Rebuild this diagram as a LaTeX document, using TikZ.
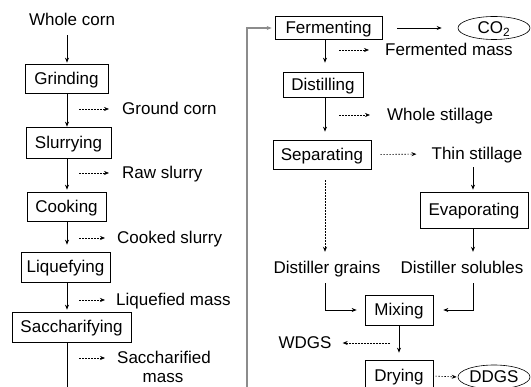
\documentclass[tikz,border=0pt]{standalone}
\usepackage{fontspec}
\setmainfont{Liberation Sans}
\usetikzlibrary{arrows.meta,shapes.geometric,calc}
\begin{document}
\begin{tikzpicture}[x=1pt,y=-1pt,
  lbl/.style={font=\fontsize{17}{20}\selectfont, inner sep=0pt, text height=12pt, text depth=0pt},
  box/.style={lbl, draw, line width=0.7pt},
  oval/.style={lbl, draw, ellipse, line width=0.6pt},
  flow/.style={-{Stealth[length=5pt,width=4pt]}, line width=0.7pt},
  dflow/.style={flow, dash pattern=on 1.6pt off 1.4pt, line width=0.6pt},
  feed/.style={-{Stealth[length=5pt,width=4pt]}, line width=1.2pt, black!45}]
\useasboundingbox (0,0) rectangle (531,387);
\clip (0,0) rectangle (531,387);
% left column
\node[lbl] (whole) at (72,20) {Whole corn};
\node[box, minimum width=83pt, minimum height=29pt] (grind) at (66.5,78.5) {Grinding};
\node[box, minimum width=85pt, minimum height=31pt] (slur) at (68.5,142.5) {Slurrying};
\node[box, minimum width=79pt, minimum height=29pt] (cook) at (66.5,206.5) {Cooking};
\node[box, minimum width=89pt, minimum height=30pt] (liq) at (65.5,267) {Liquefying};
\node[box, minimum width=119pt, minimum height=30pt] (sacch) at (71.5,327) {Saccharifying};
\node[lbl, anchor=west] (ground) at (122,109) {Ground corn};
\node[lbl, anchor=west] (raw) at (122,173) {Raw slurry};
\node[lbl, anchor=west] (cooked) at (117,238) {Cooked slurry};
\node[lbl, anchor=west] (liqm) at (116,300) {Liquefied mass};
\node[lbl, anchor=west] (saccl) at (117,358) {Saccharified};
\node[lbl] (saccm) at (163,377) {mass};
\coordinate (lx) at (67,0);
\coordinate (lbot) at (67,392);
\draw[flow, shorten <=9pt, shorten >=1pt] (whole.south -| lx) -- (grind.north -| lx);
\draw[flow] (grind.south -| lx) -- (slur.north -| lx);
\draw[flow, shorten >=2pt] (slur.south -| lx) -- (cook.north -| lx);
\draw[flow, shorten >=7pt] (cook.south -| lx) -- (liq.north -| lx);
\draw[flow, shorten >=2pt] (liq.south -| lx) -- (sacch.north -| lx);
\draw[line width=0.7pt] (sacch.south -| lx) -- (lbot);
\coordinate (d1) at (79,109);
\coordinate (d2) at (79,173);
\coordinate (d3) at (79,238);
\coordinate (d4) at (79,300);
\coordinate (d5) at (79,358);
\draw[dflow, shorten >=13pt] (d1) -- (ground.west);
\draw[dflow, shorten >=13pt] (d2) -- (raw.west);
\draw[dflow, shorten >=12pt] (d3) -- (cooked.west);
\draw[dflow, shorten >=11pt] (d4) -- (liqm.west);
\draw[dflow, shorten >=12pt] (d5) -- (saccl.west);
% right column
\node[box, minimum width=107pt, minimum height=23pt] (ferm) at (328.5,28) {Fermenting};
\node[oval, minimum width=72pt, minimum height=23pt] (co2) at (494,28) {CO\textsubscript{2}};
\node[lbl, anchor=west] (fermm) at (385,50) {Fermented mass};
\node[box, minimum width=80pt, minimum height=25pt] (dist) at (323,84.5) {Distilling};
\node[lbl, anchor=west] (whst) at (387,115) {Whole stillage};
\node[box, minimum width=98pt, minimum height=29pt] (sep) at (322,154.5) {Separating};
\node[lbl] (thin) at (477,154) {Thin stillage};
\node[box, minimum width=108pt, minimum height=36pt] (evap) at (474,210) {Evaporating};
\node[lbl] (grains) at (327,268) {Distiller grains};
\node[lbl] (solub) at (462,268) {Distiller solubles};
\node[box, minimum width=68pt, minimum height=30pt] (mix) at (399,310) {Mixing};
\node[lbl] (wdgs) at (305,343) {WDGS};
\node[box, minimum width=68pt, minimum height=32pt] (dry) at (399,376) {Drying};
\node[oval, minimum width=72pt, minimum height=24pt] (ddgs) at (494,377) {DDGS};
\coordinate (rx) at (325,0);
\coordinate (sx) at (473,0);
\coordinate (rb) at (247,392);
\coordinate (f1) at (339,50);
\coordinate (f2) at (339,115);
\coordinate (w1) at (390,343);
\draw[feed, shorten >=3pt] (rb) |- (ferm.west);
\draw[flow, shorten <=15pt, shorten >=16pt] (ferm.east) -- (co2.west);
\draw[flow, shorten >=9pt] (ferm.south -| rx) -- (dist.north -| rx);
\draw[dflow, shorten >=16pt] (f1) -- (fermm.west);
\draw[flow, shorten >=8pt] (dist.south -| rx) -- (sep.north -| rx);
\draw[dflow, shorten >=17pt] (f2) -- (whst.west);
\draw[dflow, shorten <=9pt, shorten >=15pt] (sep.east) -- (thin.west);
\draw[flow, shorten <=7pt, shorten >=2pt] (thin.south -| sx) -- (evap.north -| sx);
\draw[flow, shorten >=10pt] (evap.south -| sx) -- (solub.north -| sx);
\draw[dflow, shorten <=11pt, shorten >=10pt] (sep.south -| rx) -- (grains.north -| rx);
\draw[flow, shorten <=9pt, shorten >=8pt] (grains.south -| rx) |- (mix.west);
\draw[flow, shorten <=9pt, shorten >=10pt] (solub.south -| sx) |- (mix.east);
\draw[flow, shorten >=7pt] (mix.south) -- (dry.north);
\draw[dflow, shorten >=11pt] (w1) -- (wdgs.east);
\draw[dflow, shorten <=2pt, shorten >=1pt] (dry.east) -- (ddgs.west);
\end{tikzpicture}
\end{document}
